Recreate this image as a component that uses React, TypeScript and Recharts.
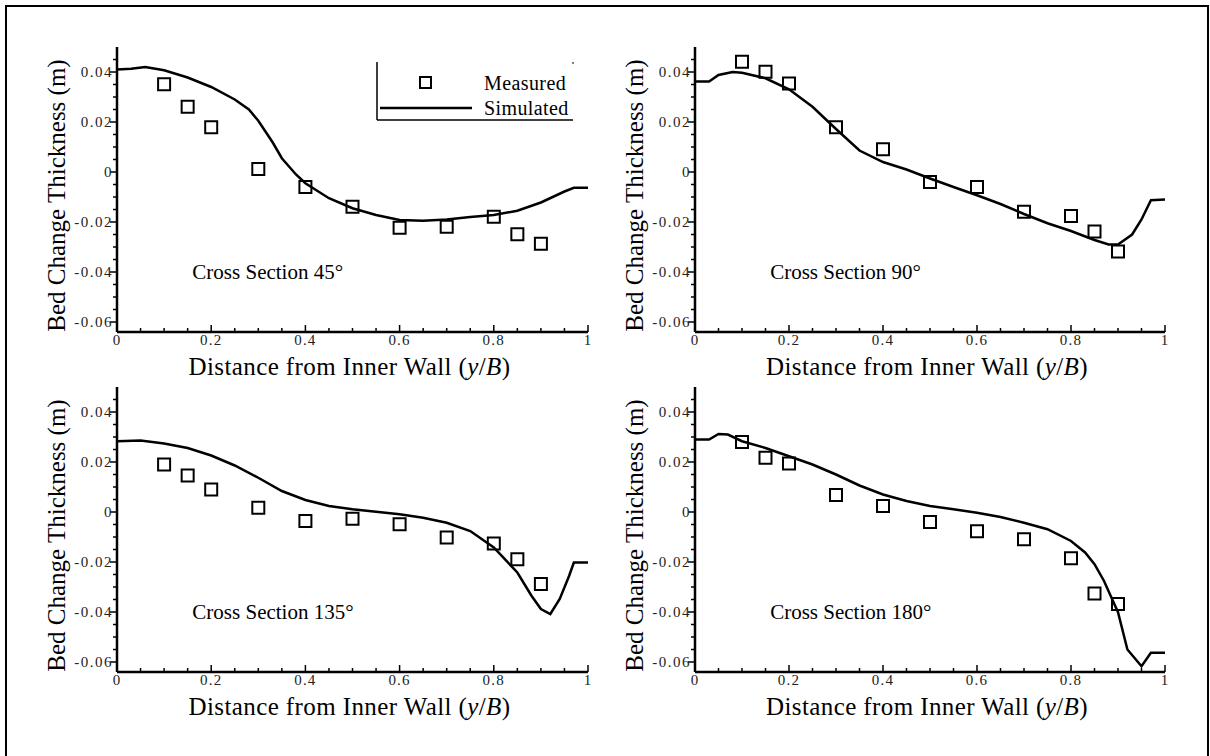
import { ComposedChart, Line, Scatter, XAxis, YAxis, ReferenceDot, Legend } from "recharts"

const FONT = '"Liberation Serif", "Times New Roman", serif'

// tick positions (majors get a label, the rest are minor ticks)
const xTicks = [0, 0.05, 0.1, 0.15, 0.2, 0.25, 0.3, 0.35, 0.4, 0.45, 0.5, 0.55, 0.6, 0.65, 0.7, 0.75, 0.8, 0.85, 0.9, 0.95, 1]
const yTicks = [-0.06, -0.055, -0.05, -0.045, -0.04, -0.035, -0.03, -0.025, -0.02, -0.015, -0.01, -0.005, 0, 0.005, 0.01, 0.015, 0.02, 0.025, 0.03, 0.035, 0.04, 0.045]

// measured points, same stations in every section
const measuredX = [0.1, 0.15, 0.2, 0.3, 0.4, 0.5, 0.6, 0.7, 0.8, 0.85, 0.9]
const measured45 = [0.0351, 0.0261, 0.0179, 0.0012, -0.006, -0.0139, -0.0223, -0.0219, -0.0179, -0.0249, -0.0287]
const measured90 = [0.0441, 0.0401, 0.0354, 0.0179, 0.0091, -0.004, -0.006, -0.0159, -0.0176, -0.0238, -0.0318]
const measured135 = [0.019, 0.0146, 0.009, 0.0017, -0.0036, -0.0027, -0.0049, -0.0102, -0.0126, -0.0189, -0.0288]
const measured180 = [0.028, 0.0217, 0.0194, 0.0068, 0.0024, -0.004, -0.0077, -0.0109, -0.0185, -0.0326, -0.0368]

// simulated profiles
const sim45X = [0, 0.03, 0.06, 0.1, 0.15, 0.2, 0.25, 0.28, 0.3, 0.33, 0.35, 0.38, 0.4, 0.45, 0.5, 0.55, 0.6, 0.65, 0.7, 0.75, 0.8, 0.85, 0.9, 0.95, 0.97, 1]
const sim45Y = [0.041, 0.0413, 0.042, 0.0407, 0.0378, 0.034, 0.029, 0.025, 0.0205, 0.012, 0.0055, -0.001, -0.0045, -0.0105, -0.0145, -0.0172, -0.0192, -0.0195, -0.019, -0.018, -0.0172, -0.0155, -0.0122, -0.0078, -0.0063, -0.0063]

const sim90X = [0, 0.03, 0.05, 0.08, 0.1, 0.15, 0.2, 0.25, 0.3, 0.35, 0.4, 0.45, 0.5, 0.55, 0.6, 0.65, 0.7, 0.75, 0.8, 0.85, 0.88, 0.9, 0.93, 0.95, 0.97, 1]
const sim90Y = [0.0362, 0.0362, 0.0388, 0.04, 0.0397, 0.0375, 0.0331, 0.0261, 0.0172, 0.0086, 0.004, 0.001, -0.0026, -0.006, -0.0093, -0.0128, -0.0168, -0.0205, -0.0236, -0.0272, -0.029, -0.029, -0.025, -0.019, -0.0113, -0.011]

const sim135X = [0, 0.05, 0.1, 0.15, 0.2, 0.25, 0.3, 0.35, 0.4, 0.45, 0.5, 0.55, 0.6, 0.65, 0.7, 0.75, 0.8, 0.85, 0.88, 0.9, 0.92, 0.94, 0.96, 0.97, 1]
const sim135Y = [0.0283, 0.0286, 0.0274, 0.0256, 0.0226, 0.0186, 0.0137, 0.0084, 0.0048, 0.0024, 0.0011, 0.0001, -0.0009, -0.0023, -0.0043, -0.0076, -0.0142, -0.0242, -0.0335, -0.0388, -0.0408, -0.0348, -0.0255, -0.0202, -0.0202]

const sim180X = [0, 0.03, 0.05, 0.07, 0.1, 0.15, 0.2, 0.25, 0.3, 0.35, 0.4, 0.45, 0.5, 0.55, 0.6, 0.65, 0.7, 0.75, 0.8, 0.83, 0.85, 0.87, 0.9, 0.92, 0.95, 0.97, 1]
const sim180Y = [0.029, 0.029, 0.0312, 0.031, 0.0283, 0.0256, 0.0223, 0.019, 0.015, 0.0106, 0.007, 0.0044, 0.0024, 0.0011, -0.0003, -0.002, -0.0043, -0.0069, -0.0116, -0.0162, -0.0209, -0.0275, -0.0401, -0.055, -0.0617, -0.0563, -0.0563]

const isMajor = (v: number, step: number) => Math.abs(v / step - Math.round(v / step)) < 1e-6

function XTick({ x, y, payload }: any) {
  const major = isMajor(payload.value, 0.2)
  return (
    <g>
      <line x1={x} y1={y} x2={x} y2={y - (major ? 7 : 4)} stroke="#000" strokeWidth={1.5} />
      {major && (
        <text x={x} y={y + 3} textAnchor="middle" dominantBaseline="hanging" fontSize={15} fontFamily={FONT} fill="#222" letterSpacing={1.2}>
          {String(payload.value)}
        </text>
      )}
    </g>
  )
}

function YTick({ x, y, payload }: any) {
  const major = isMajor(payload.value, 0.02)
  return (
    <g>
      <line x1={x} y1={y} x2={x - (major ? 7 : 4)} y2={y} stroke="#000" strokeWidth={1.5} />
      {major && (
        <text x={x - 4} y={y} textAnchor="end" dominantBaseline="central" fontSize={15} fontFamily={FONT} fill="#222" letterSpacing={1.5}>
          {String(payload.value)}
        </text>
      )}
    </g>
  )
}

const xTitle = ({ viewBox }: any) => (
  <text x={viewBox.x + viewBox.width / 2 - 3} y={viewBox.y + 34} textAnchor="middle" dominantBaseline="central" fontSize={25} fontFamily={FONT} fill="#000" letterSpacing={0.4}>
    Distance from Inner Wall (<tspan fontStyle="italic">y</tspan>/<tspan fontStyle="italic">B</tspan>)
  </text>
)

const yTitle = ({ viewBox }: any) => {
  const cx = viewBox.x + viewBox.width / 2 - 11
  const cy = viewBox.y + viewBox.height / 2 + 6
  return (
    <text x={cx} y={cy} transform={`rotate(-90 ${cx} ${cy})`} textAnchor="middle" dominantBaseline="central" fontSize={25} fontFamily={FONT} fill="#000">
      Bed Change Thickness (m)
    </text>
  )
}

const square = (p: any) => (
  <rect x={p.cx - 6} y={p.cy - 6} width={12} height={12} fill="none" stroke="#000" strokeWidth={2} />
)

const legendBox = () => (
  <svg width={202} height={66} style={{ display: "block" }}>
    <line x1={3} y1={4} x2={3} y2={62} stroke="#000" strokeWidth={1.5} />
    <line x1={3} y1={62} x2={199} y2={62} stroke="#000" strokeWidth={1.5} />
    <line x1={199} y1={4} x2={199} y2={6} stroke="#000" strokeWidth={1} />
    <rect x={46} y={19} width={11} height={11} fill="none" stroke="#000" strokeWidth={2} />
    <line x1={6} y1={50} x2={98} y2={50} stroke="#000" strokeWidth={2.5} />
    <text x={110} y={25} dominantBaseline="central" fontSize={20} fontFamily={FONT} letterSpacing={0.4}>Measured</text>
    <text x={110} y={50} dominantBaseline="central" fontSize={20} fontFamily={FONT} letterSpacing={0.4}>Simulated</text>
  </svg>
)

interface PanelProps {
  left: number
  top: number
  plotWidth: number
  simX: number[]
  simY: number[]
  measY: number[]
  title: string
  legend?: boolean
}

function Panel({ left, top, plotWidth, simX, simY, measY, title, legend }: PanelProps) {
  const sim = simX.map((x, i) => ({ x, y: simY[i] }))
  const meas = measuredX.map((x, i) => ({ x, y: measY[i] }))
  return (
    <div style={{ position: "absolute", left, top }}>
      <ComposedChart width={100 + plotWidth + 20} height={355} margin={{ top: 10, right: 20, left: 0, bottom: 0 }}>
        <XAxis
          type="number"
          dataKey="x"
          domain={[0, 1]}
          ticks={xTicks}
          interval={0}
          tickSize={0}
          tickMargin={0}
          tickLine={false}
          tick={<XTick />}
          axisLine={{ stroke: "#000", strokeWidth: 2.5 }}
          height={60}
          allowDataOverflow
          label={{ content: xTitle }}
        />
        <YAxis
          type="number"
          dataKey="y"
          domain={[-0.064, 0.05]}
          ticks={yTicks}
          interval={0}
          tickSize={0}
          tickMargin={0}
          tickLine={false}
          tick={<YTick />}
          axisLine={{ stroke: "#000", strokeWidth: 2.5 }}
          width={100}
          allowDataOverflow
          label={{ content: yTitle }}
        />
        <Line data={sim} dataKey="y" type="linear" stroke="#000" strokeWidth={2.5} dot={false} isAnimationActive={false} />
        <Scatter data={meas} dataKey="y" shape={square} isAnimationActive={false} />
        <ReferenceDot
          x={0.16}
          y={-0.04}
          r={0}
          stroke="none"
          label={{ value: title, position: "right", offset: 0, fontSize: 21, fontFamily: FONT, fill: "#000" }}
        />
        {legend && (
          <Legend
            layout="vertical"
            align="center"
            verticalAlign="middle"
            wrapperStyle={{ left: 357, top: 21, width: 202, height: 66 }}
            content={legendBox}
          />
        )}
      </ComposedChart>
    </div>
  )
}

export default function App() {
  return (
    <div style={{ position: "absolute", left: 0, top: 0, width: 1210, height: 756, background: "#fff", overflow: "hidden" }}>
      <div style={{ position: "absolute", left: 5, top: 5, width: 1200, height: 800, borderLeft: "2px solid #000", borderTop: "2px solid #000", borderRight: "2px solid #000" }} />
      <Panel left={17} top={37} plotWidth={471} simX={sim45X} simY={sim45Y} measY={measured45} title="Cross Section 45°" legend />
      <Panel left={595} top={37} plotWidth={470} simX={sim90X} simY={sim90Y} measY={measured90} title="Cross Section 90°" />
      <Panel left={17} top={377} plotWidth={471} simX={sim135X} simY={sim135Y} measY={measured135} title="Cross Section 135°" />
      <Panel left={595} top={377} plotWidth={470} simX={sim180X} simY={sim180Y} measY={measured180} title="Cross Section 180°" />
    </div>
  )
}
